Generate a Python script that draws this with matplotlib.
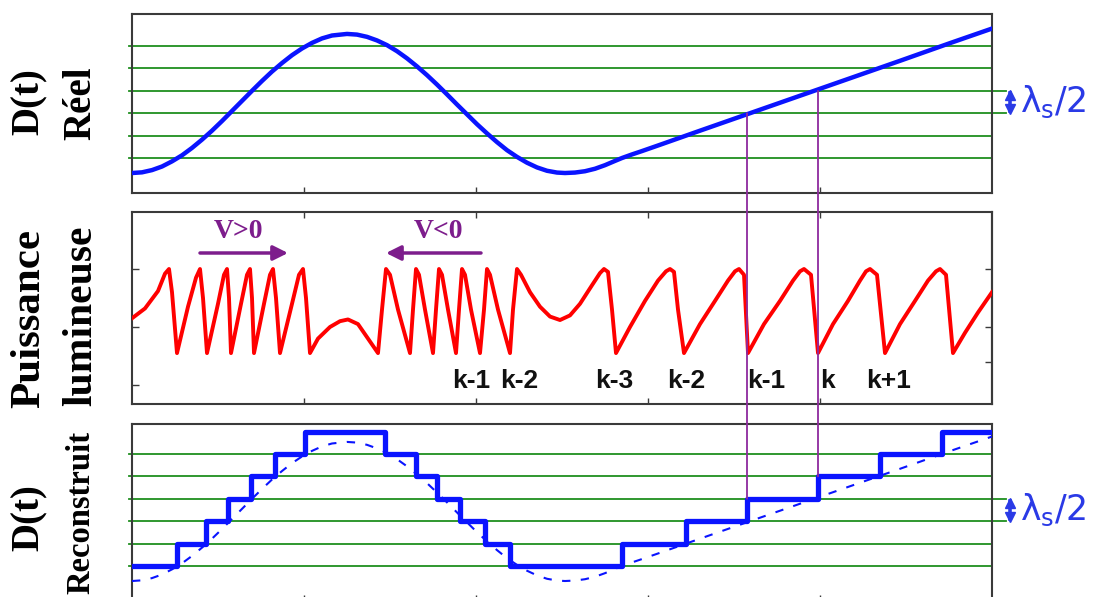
import matplotlib
matplotlib.use('Agg')
import matplotlib.pyplot as plt
from matplotlib.patches import ConnectionPatch

# time in samples (0..860), displacement in lambda_s/2 units
real_t = [0, 10, 20, 30, 40, 50, 60, 70, 80, 90, 100, 110, 120, 130, 140, 150, 160, 170,
          180, 190, 200, 215, 225, 235, 245, 255, 265, 275, 285, 295, 305, 315, 325, 335,
          345, 355, 365, 375, 385, 395, 405, 415, 425, 433, 443, 453, 463, 473, 483, 490,
          500, 510, 528, 568, 618, 668, 718, 768, 818, 860]
real_d = [0.33, 0.36, 0.46, 0.62, 0.85, 1.12, 1.45, 1.82, 2.22, 2.65, 3.10, 3.55, 4.00,
          4.44, 4.86, 5.24, 5.59, 5.89, 6.14, 6.34, 6.47, 6.54, 6.51, 6.41, 6.25, 6.04,
          5.77, 5.45, 5.09, 4.70, 4.28, 3.84, 3.39, 2.95, 2.51, 2.10, 1.71, 1.35, 1.05,
          0.79, 0.58, 0.43, 0.35, 0.33, 0.35, 0.41, 0.52, 0.68, 0.87, 1.00, 1.16, 1.31,
          1.59, 2.22, 3.00, 3.78, 4.56, 5.34, 6.13, 6.78]

stair_t = [0, 45, 74, 96, 119, 143, 173, 253, 284, 305, 328, 353, 378, 490, 554, 615,
           686, 748, 810, 858]
stair_d = [1, 2, 3, 4, 5, 6, 7, 6, 5, 4, 3, 2, 1, 2, 3, 4, 5, 6, 7, 7]

levels = [1, 2, 3, 4, 5, 6]

# optical power (self-mixing signal)
power_t = [0, 13, 26, 33, 37, 40, 45,
           56, 64, 68, 71, 75,
           86, 92, 95, 97, 99,
           109, 115, 118, 120, 122,
           132, 138, 141, 144, 148,
           160, 167, 171, 174, 178,
           186, 198, 208, 216, 226, 236, 246,
           250, 254, 258, 266, 278,
           281, 284, 287, 293, 301,
           304, 307, 310, 316, 324,
           327, 330, 333, 339, 348,
           352, 355, 358, 366, 378,
           381, 385, 389, 398, 408, 418, 428, 438,
           448, 460, 468, 472, 476, 480, 484,
           498, 513, 526, 534, 538, 542, 546, 552,
           568, 583, 596, 603, 607, 612, 616,
           632, 648, 661, 668, 672, 679, 686,
           701, 716, 728, 734, 738, 745, 753,
           768, 783, 796, 804, 808, 814, 821,
           833, 846, 860]
power = [0.15, 0.32, 0.62, 0.92, 1.0, 0.6, -0.45,
         0.35, 0.85, 1.0, 0.5, -0.45,
         0.4, 0.9, 1.0, 0.5, -0.45,
         0.4, 0.9, 1.0, 0.5, -0.45,
         0.4, 0.9, 1.0, 0.5, -0.45,
         0.4, 0.9, 1.0, 0.5, -0.45,
         -0.2, 0.0, 0.1, 0.13, 0.05, -0.2, -0.45,
         0.3, 1.0, 0.9, 0.3, -0.45,
         0.3, 1.0, 0.9, 0.3, -0.45,
         0.3, 1.0, 0.9, 0.3, -0.45,
         0.3, 1.0, 0.9, 0.3, -0.45,
         0.3, 1.0, 0.9, 0.3, -0.45,
         0.3, 1.0, 0.9, 0.6, 0.35, 0.18, 0.12, 0.2,
         0.4, 0.72, 0.93, 1.0, 0.95, 0.3, -0.45,
         0.0, 0.45, 0.8, 0.96, 1.0, 0.95, 0.3, -0.45,
         0.05, 0.45, 0.8, 0.96, 1.0, 0.9, -0.45,
         0.05, 0.45, 0.8, 0.96, 1.0, 0.9, -0.45,
         0.05, 0.45, 0.8, 0.96, 1.0, 0.9, -0.45,
         0.05, 0.45, 0.8, 0.96, 1.0, 0.9, -0.45,
         -0.1, 0.25, 0.6]

k_labels = ['k-1', 'k-2', 'k-3', 'k-2', 'k-1', 'k', 'k+1']
k_t = [320, 368, 463, 535, 615, 688, 734]

BLUE = '#0a14ff'
LBLUE = '#2a3ae6'
GREEN = '#1f8f1f'
PURPLE = '#7d1d8c'
SPINE = '#3a3a3a'
W, H = 1097, 597

fig = plt.figure(figsize=(W / 100, H / 100), dpi=100)


def box(left, top, right, bottom):
    return fig.add_axes([left / W, 1 - bottom / H, (right - left) / W, (bottom - top) / H])


ax1 = box(132, 14, 992, 193)
ax2 = box(132, 212, 992, 404)
ax3 = box(132, 424, 992, 601)

ticks_x = [172, 344, 516, 688]
for ax in (ax1, ax2, ax3):
    ax.set_xlim(0, 860)
    for s in ax.spines.values():
        s.set_color(SPINE)
        s.set_linewidth(1.5)
    ax.set_xticks(ticks_x)
    ax.tick_params(direction='in', length=4, width=1, colors=SPINE,
                   labelleft=False, labelbottom=False)

ax1.set_ylim(-0.5625, 7.43)
ax3.set_ylim(-0.5625, 7.34)
ax2.set_ylim(-1.328, 1.983)
ax1.set_yticks([])
ax3.set_yticks([])
ax2.set_yticks([-1, 0, 1])
ax2.tick_params(axis='x', top=True, length=4)
ax2.tick_params(axis='y', length=5)
sec = ax2.secondary_yaxis('right')
sec.set_yticks([-0.6, 0, 1])
sec.tick_params(direction='in', length=5, width=1, colors=SPINE, labelright=False)
sec.spines['right'].set_linewidth(1.5)
sec.spines['right'].set_color(SPINE)

# green lambda/2 levels
for ax in (ax1, ax3):
    for lv in levels:
        ext = 1.016 if lv in (3, 4) else 1.0
        ax.axhline(lv, xmin=-0.004, xmax=ext, color=GREEN, lw=1.3, clip_on=False, zorder=1)

# top: real displacement
ax1.plot(real_t, real_d, color=BLUE, lw=3.2, zorder=3)

# middle: optical power
ax2.plot(power_t, power, color='#ff0000', lw=2.8, solid_joinstyle='round', zorder=3)
for lab, t in zip(k_labels, k_t):
    ax2.text(t, -0.93, lab, ha='left', va='center', fontsize=19, fontweight='bold',
             family='Liberation Sans', color='#111111')
ax2.text(106, 1.655, 'V>0', ha='center', va='center', fontsize=20, fontweight='bold',
         family='Liberation Serif', color=PURPLE)
ax2.text(306, 1.655, 'V<0', ha='center', va='center', fontsize=20, fontweight='bold',
         family='Liberation Serif', color=PURPLE)
ax2.annotate('', xy=(156, 1.276), xytext=(68, 1.276),
             arrowprops=dict(arrowstyle='-|>', mutation_scale=22, lw=2.5, color=PURPLE,
                             shrinkA=0, shrinkB=0))
ax2.annotate('', xy=(254, 1.276), xytext=(349, 1.276),
             arrowprops=dict(arrowstyle='-|>', mutation_scale=22, lw=2.5, color=PURPLE,
                             shrinkA=0, shrinkB=0))

# bottom: reconstructed displacement
ax3.plot(real_t, real_d, color=BLUE, lw=1.5, dashes=(4, 5), zorder=3)
ax3.step(stair_t, stair_d, where='post', color=BLUE, lw=3.8, zorder=4)

# lambda_s/2 markers
for ax in (ax1, ax3):
    tr = ax.get_yaxis_transform()
    ax.plot([1.021, 1.021], [3.1, 3.9], transform=tr, color=LBLUE, lw=2.6,
            clip_on=False, zorder=5)
    ax.plot([1.021], [3.82], transform=tr, marker='^', ms=7, color=LBLUE,
            clip_on=False, zorder=5)
    ax.plot([1.021], [3.18], transform=tr, marker='v', ms=7, color=LBLUE,
            clip_on=False, zorder=5)
    ax.text(1.032, 3.5, r'$\mathrm{\lambda_s/2}$', transform=tr, ha='left', va='center',
            fontsize=25, color=LBLUE)

# magenta links between real curve and reconstructed steps
for i in (15, 16):
    con = ConnectionPatch(xyA=(stair_t[i], stair_d[i] - 1), coordsA=ax1.transData,
                          xyB=(stair_t[i], stair_d[i]), coordsB=ax3.transData,
                          color='#8e2a9e', lw=1.3, zorder=10)
    fig.add_artist(con)

lab_kw = dict(rotation=90, ha='center', va='center', fontweight='bold',
              family='Liberation Serif')
fig.text(29 / W, 1 - 102 / H, 'D(t)', fontsize=28, **lab_kw)
fig.text(81 / W, 1 - 103 / H, 'Réel', fontsize=28, **lab_kw)
fig.text(29 / W, 1 - 318 / H, 'Puissance', fontsize=31, **lab_kw)
fig.text(81 / W, 1 - 316 / H, 'lumineuse', fontsize=30, **lab_kw)
fig.text(29 / W, 1 - 518 / H, 'D(t)', fontsize=28, **lab_kw)
fig.text(81 / W, 1 - 512 / H, 'Reconstruit', fontsize=23.5, **lab_kw)

fig.savefig('out.png', dpi=100)
